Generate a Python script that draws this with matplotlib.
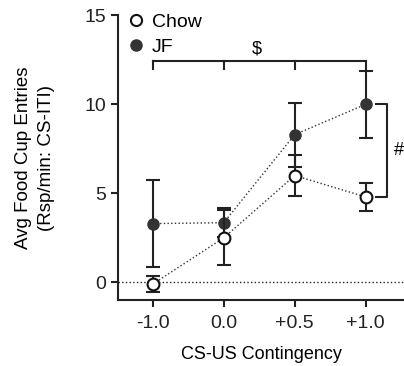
import matplotlib.pyplot as plt
from matplotlib.lines import Line2D

plt.rcParams['font.family'] = ['Liberation Sans', 'DejaVu Sans']

# Daten
categories = ['-1.0', '0.0', '+0.5', '+1.0']
chow_mean = [-0.1, 2.5, 6.0, 4.8]
chow_err = [0.45, 1.55, 1.15, 0.8]
jf_mean = [3.3, 3.35, 8.3, 10.0]
jf_err = [2.45, 0.8, 1.8, 1.9]

x = list(range(len(categories)))

fig = plt.figure(figsize=(4.04, 3.66), dpi=100)
ax = fig.add_axes([0.292, 0.180, 0.708, 0.778])

ax.axhline(0, color='#222222', linestyle=':', linewidth=1, zorder=1)

ax.plot(x, jf_mean, linestyle=':', color='#333333', linewidth=1, zorder=2)
ax.plot(x, chow_mean, linestyle=':', color='#333333', linewidth=1, zorder=2)

ax.errorbar(x, jf_mean, yerr=jf_err, fmt='o', color='#222222', mfc='#333333',
            mec='#333333', ms=8, capsize=5, elinewidth=1.5, capthick=1.5,
            zorder=3)
ax.errorbar(x, chow_mean, yerr=chow_err, fmt='o', color='#222222', mfc='white',
            mec='#111111', mew=1.5, ms=8.5, capsize=5, elinewidth=1.5,
            capthick=1.5, zorder=4)

# $ Klammer
ax.plot([0, 3], [12.45, 12.45], color='#222222', lw=1.5, clip_on=False)
for xi in x:
    ax.plot([xi, xi], [12.45, 12.0], color='#222222', lw=1.5, clip_on=False)
ax.text(1.46, 12.65, '$', ha='center', va='bottom', fontsize=13)

# # Klammer
ax.plot([3.15, 3.3, 3.3, 3.15], [10.0, 10.0, 4.8, 4.8], color='#222222',
        lw=1.5, clip_on=False)
ax.text(3.47, 7.4, '#', ha='center', va='center', fontsize=13, clip_on=False)

ax.set_xlim(-0.49, 3.54)
ax.set_ylim(-1, 15)
ax.set_xticks(x)
ax.set_xticklabels(categories)
ax.set_yticks([0, 5, 10, 15])
ax.tick_params(labelsize=14, width=1.5, length=5, colors='#222222')
ax.tick_params(axis='x', pad=6)
for s in ['top', 'right']:
    ax.spines[s].set_visible(False)
for s in ['left', 'bottom']:
    ax.spines[s].set_linewidth(1.5)
    ax.spines[s].set_color('#222222')

ax.set_xlabel('CS-US Contingency', fontsize=13, labelpad=10)
ax.set_ylabel('Avg Food Cup Entries\n(Rsp/min: CS-ITI)', fontsize=13.5,
              linespacing=1.45, va='center')
ax.yaxis.set_label_coords(-0.29, 0.5)

handles = [
    Line2D([], [], marker='o', ls='none', mfc='white', mec='#111111', mew=1.5,
           ms=8),
    Line2D([], [], marker='o', ls='none', mfc='#333333', mec='#333333', ms=8),
]
ax.legend(handles, ['Chow', 'JF'], loc='upper left',
          bbox_to_anchor=(-0.038, 1.07), frameon=False, fontsize=14,
          handletextpad=0.2, labelspacing=0.4, handlelength=1.2)

fig.savefig('out.png', dpi=100)
